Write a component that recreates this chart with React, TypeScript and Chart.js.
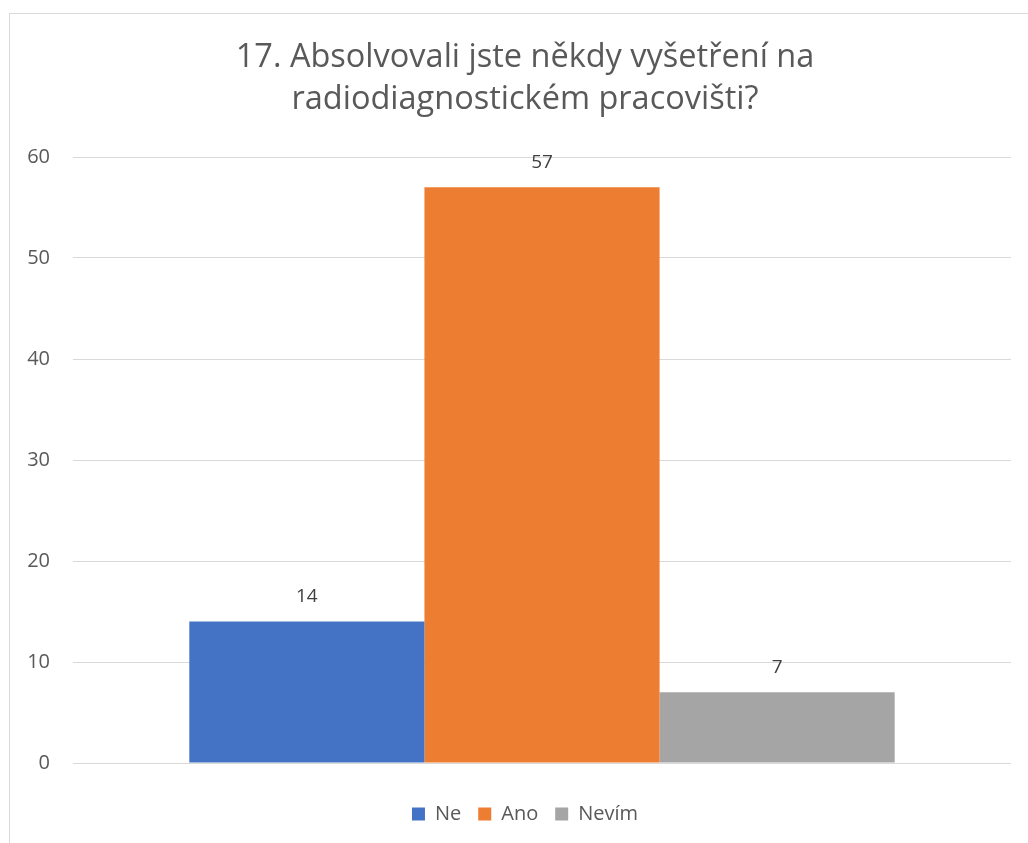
import React, { useEffect, useRef } from "react";
import { Chart, registerables } from "chart.js";

Chart.register(...registerables);

const categories: string[] = [""];
const seriesNames: string[] = ["Ne", "Ano", "Nevím"];
const seriesValues: number[] = [14, 57, 7];
const seriesColors: string[] = ["#4472C4", "#ED7D31", "#A5A5A5"];
const titleLines: string[] = ["17. Absolvovali jste někdy vyšetření na", "radiodiagnostickém pracovišti?"];
const yMax = 60;
const yStep = 10;

const FONT = "'Open Sans', 'Noto Sans', sans-serif";

const valueLabels = {
  id: "valueLabels",
  afterDatasetsDraw(chart: any) {
    const ctx = chart.ctx;
    ctx.save();
    ctx.font = `19px ${FONT}`;
    ctx.fillStyle = "#404040";
    ctx.textAlign = "center";
    ctx.textBaseline = "middle";
    chart.data.datasets.forEach((ds: any, i: number) => {
      const meta = chart.getDatasetMeta(i);
      meta.data.forEach((bar: any, j: number) => {
        ctx.fillText(String(ds.data[j]), bar.x, bar.y - 25);
      });
    });
    ctx.restore();
  },
};

export default function App() {
  const ref = useRef<HTMLCanvasElement>(null);
  useEffect(() => {
    if (!ref.current) return;
    const chart = new Chart(ref.current, {
      type: "bar",
      data: {
        labels: categories,
        datasets: seriesNames.map((name, i) => ({
          label: name,
          data: [seriesValues[i]],
          backgroundColor: seriesColors[i],
          borderWidth: 0,
          categoryPercentage: 0.752,
          barPercentage: 1,
        })),
      },
      options: {
        animation: false,
        responsive: false,
        maintainAspectRatio: false,
        layout: { padding: { top: 0, bottom: 18, left: 0, right: 0 } },
        plugins: {
          title: {
            display: true,
            text: titleLines,
            color: "#595959",
            font: { family: FONT, size: 32.5, weight: "normal", lineHeight: 42 / 32.5 },
            padding: { top: 23, bottom: 36 },
          },
          legend: {
            display: true,
            position: "bottom",
            labels: {
              boxWidth: 13,
              boxHeight: 13,
              padding: 17,
              color: "#595959",
              font: { family: FONT, size: 20 },
            },
          },
          tooltip: { enabled: false },
        },
        scales: {
          x: {
            display: true,
            ticks: { display: false },
            grid: { display: false },
            border: { display: false },
            afterFit: (s: any) => { s.height = 24; },
          },
          y: {
            min: 0,
            max: yMax,
            ticks: { stepSize: yStep, padding: 23, color: "#595959", font: { family: FONT, size: 20 } },
            grid: { color: "#d9d9d9", lineWidth: 1, drawTicks: false },
            border: { display: false },
            afterFit: (s: any) => { s.width = 63; },
          },
          y2: {
            position: "right",
            display: true,
            ticks: { display: false },
            grid: { display: false },
            border: { display: false },
            afterFit: (s: any) => { s.width = 29; },
          },
        },
      } as any,
      plugins: [valueLabels],
    });
    return () => chart.destroy();
  }, []);
  return (
    <div style={{ position: "fixed", left: 0, top: 0, width: 1028, height: 843, overflow: "hidden", background: "#fff" }}>
      <div style={{ position: "absolute", left: 9, top: 13, width: 1030, height: 838, border: "1px solid #d9d9d9" }}>
        <canvas ref={ref} width={1030} height={838} style={{ display: "block", width: 1030, height: 838 }} />
      </div>
    </div>
  );
}
